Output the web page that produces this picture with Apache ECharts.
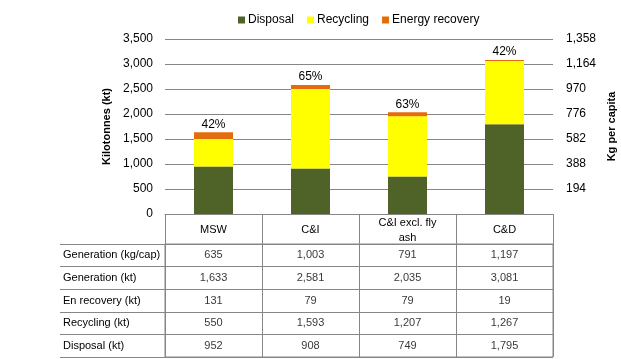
<!DOCTYPE html>
<html>
<head>
<meta charset="utf-8">
<script src="https://cdn.jsdelivr.net/npm/echarts@6/dist/echarts.min.js"></script>
<style>html,body{margin:0;padding:0;background:#fff}#c{width:621px;height:359px}</style>
</head>
<body>
<div id="c"></div>
<script>
const categories = ['MSW', 'C&I', 'C&I excl. fly\nash', 'C&D'];
const disposal = [952, 908, 749, 1795];
const recycling = [550, 1593, 1207, 1267];
const energyRecovery = [131, 79, 79, 19];
const recoveryRate = ['42%', '65%', '63%', '42%'];
const generationKgCap = [635, 1003, 791, 1197];
const generationKt = [1633, 2581, 2035, 3081];
const tableRowLabels = ['Generation (kg/cap)', 'Generation (kt)', 'En recovery (kt)', 'Recycling (kt)', 'Disposal (kt)'];
const tableRows = [generationKgCap, generationKt, energyRecovery, recycling, disposal];
const leftAxis = { max: 3500, interval: 500 };
const rightAxis = { max: 1358, interval: 194 };

const FONT = 'Liberation Sans';
const GRID_COLOR = '#868686';
const fmt = v => Number(v).toLocaleString('en-US');

const tableData = [];
tableRows.forEach((row, r) => row.forEach((v, c) => tableData.push([c, r, v])));

const chart = echarts.init(document.getElementById('c'), null, { renderer: 'canvas' });
chart.setOption({
  animation: false,
  textStyle: { fontFamily: FONT },
  legend: {
    left: 238, top: 14, padding: 0,
    itemWidth: 7, itemHeight: 7, itemGap: 13,
    icon: 'rect',
    textStyle: { fontFamily: FONT, fontSize: 12, color: '#000', padding: [0, 0, 0, -2] },
    data: ['Disposal', 'Recycling', 'Energy recovery']
  },
  grid: [
    { left: 165, right: 68, top: 39, bottom: 145, outerBoundsMode: 'none', containLabel: false },
    { left: 165, right: 68, top: 244, height: 113, outerBoundsMode: 'none', containLabel: false,
      show: true, borderColor: GRID_COLOR, borderWidth: 1, backgroundColor: 'transparent' }
  ],
  xAxis: [
    {
      type: 'category', gridIndex: 0, data: categories,
      axisLine: { show: true, lineStyle: { color: GRID_COLOR } },
      axisTick: { show: true, length: 30, lineStyle: { color: GRID_COLOR } },
      axisLabel: { fontFamily: FONT, fontSize: 11, color: '#000', margin: 16, verticalAlign: 'middle', lineHeight: 15, interval: 0 }
    },
    {
      type: 'category', gridIndex: 1, data: categories,
      axisLine: { show: false }, axisTick: { show: false }, axisLabel: { show: false },
      splitLine: { show: true, lineStyle: { color: GRID_COLOR } }
    }
  ],
  yAxis: [
    {
      type: 'value', gridIndex: 0, min: 0, max: leftAxis.max, interval: leftAxis.interval,
      name: 'Kilotonnes (kt)', nameLocation: 'middle', nameGap: 52,
      nameTextStyle: { fontFamily: FONT, fontSize: 11, fontWeight: 'bold', color: '#000' },
      axisLine: { show: false }, axisTick: { show: false },
      axisLabel: { fontFamily: FONT, fontSize: 12, color: '#000', margin: 12, formatter: v => fmt(v) },
      splitLine: { show: true, lineStyle: { color: GRID_COLOR } }
    },
    {
      type: 'value', gridIndex: 0, position: 'right', min: 0, max: rightAxis.max, interval: rightAxis.interval,
      name: 'Kg per capita', nameLocation: 'middle', nameGap: 50,
      nameTextStyle: { fontFamily: FONT, fontSize: 11, fontWeight: 'bold', color: '#000' },
      axisLine: { show: false }, axisTick: { show: false },
      axisLabel: { fontFamily: FONT, fontSize: 12, color: '#000', margin: 13, formatter: v => v === 0 ? '' : fmt(v) },
      splitLine: { show: false }
    },
    {
      type: 'category', gridIndex: 1, data: tableRowLabels, inverse: true,
      axisLine: { show: true, lineStyle: { color: GRID_COLOR } },
      axisTick: { show: true, length: 105, lineStyle: { color: GRID_COLOR } },
      axisLabel: { fontFamily: FONT, fontSize: 11, color: '#000', align: 'left', margin: 102 },
      splitLine: { show: true, lineStyle: { color: GRID_COLOR } }
    },
    {
      type: 'category', gridIndex: 1, data: tableRowLabels, inverse: true, offset: 105,
      axisLine: { show: true, lineStyle: { color: GRID_COLOR } },
      axisTick: { show: false }, axisLabel: { show: false }, splitLine: { show: false }
    }
  ],
  series: [
    { name: 'Disposal', type: 'bar', stack: 'w', xAxisIndex: 0, yAxisIndex: 0, barWidth: 39,
      itemStyle: { color: '#4F6228' }, data: disposal },
    { name: 'Recycling', type: 'bar', stack: 'w', xAxisIndex: 0, yAxisIndex: 0, barWidth: 39,
      itemStyle: { color: '#FFFF00' }, data: recycling },
    { name: 'Energy recovery', type: 'bar', stack: 'w', xAxisIndex: 0, yAxisIndex: 0, barWidth: 39,
      itemStyle: { color: '#E46C0A' }, data: energyRecovery,
      label: { show: true, position: 'top', distance: 2, fontFamily: FONT, fontSize: 12, color: '#000',
        formatter: p => recoveryRate[p.dataIndex] } },
    { name: 'table', type: 'scatter', xAxisIndex: 1, yAxisIndex: 2, symbolSize: 1, silent: true,
      itemStyle: { color: 'rgba(0,0,0,0)' },
      label: { show: true, position: 'inside', fontFamily: FONT, fontSize: 11, color: '#000',
        formatter: p => fmt(p.value[2]) },
      data: tableData }
  ]
});
</script>
</body>
</html>
